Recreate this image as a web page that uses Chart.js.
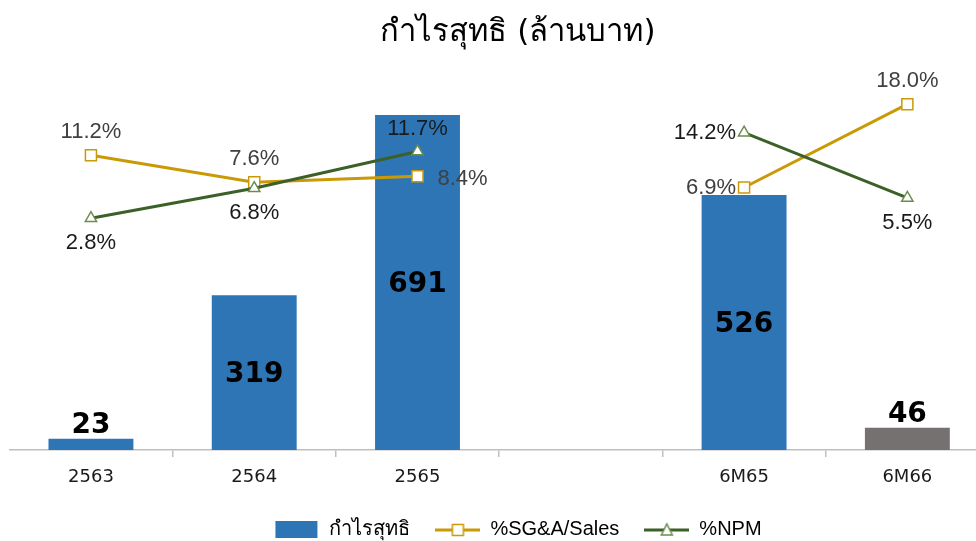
<!DOCTYPE html>
<html>
<head>
<meta charset="utf-8">
<script src="https://cdn.jsdelivr.net/npm/chart.js@4/dist/chart.umd.min.js"></script>
<style>
  html, body { margin: 0; padding: 0; background: #fff; overflow: hidden; }
  #wrap { width: 976px; height: 541px; overflow: hidden; }
  canvas { display: block; }
</style>
</head>
<body>
<div id="wrap"><canvas id="chart" width="1036" height="541"></canvas></div>
<script>
// data
const periods = ['2563', '2564', '2565', '', '6M65', '6M66'];
const netProfit = [23, 319, 691, null, 526, 46];
const sgaPct = [11.2, 7.6, 8.4, null, 6.9, 18.0];
const npmPct = [2.8, 6.8, 11.7, null, 14.2, 5.5];
const seriesNames = ['กำไรสุทธิ', '%SG&A/Sales', '%NPM'];
const chartTitle = 'กำไรสุทธิ (ล้านบาท)';

const BLUE = '#2e75b6';
const GREY = '#767171';
const GOLD = '#c99a06';
const GREEN = '#3c6128';
const GREEN_MARK = '#6b8c4e';

// little canvases used as legend markers
function makeMarker(kind) {
  const c = document.createElement('canvas');
  c.width = 45; c.height = 17;
  const g = c.getContext('2d');
  if (kind === 'bar') {
    g.fillStyle = BLUE;
    g.fillRect(1, 0, 42, 17);
    return c;
  }
  g.strokeStyle = kind === 'sga' ? GOLD : GREEN;
  g.lineWidth = 3;
  g.beginPath(); g.moveTo(0, 9); g.lineTo(45, 9); g.stroke();
  g.fillStyle = '#fff';
  g.lineWidth = 1.5;
  if (kind === 'sga') {
    g.strokeStyle = GOLD;
    g.fillRect(17, 3.5, 11, 11);
    g.strokeRect(17, 3.5, 11, 11);
  } else {
    g.strokeStyle = GREEN_MARK;
    g.beginPath(); g.moveTo(22.5, 3); g.lineTo(28, 14); g.lineTo(17, 14); g.closePath();
    g.fill(); g.stroke();
  }
  return c;
}

const valueLabels = {
  id: 'valueLabels',
  afterDatasetsDraw(chart) {
    const ctx = chart.ctx;
    chart.data.datasets.forEach((ds, di) => {
      const cfg = ds.valueLabel;
      if (!cfg) return;
      const meta = chart.getDatasetMeta(di);
      meta.data.forEach((el, i) => {
        const v = ds.data[i];
        if (v == null) return;
        const pos = cfg.pos[i];
        const text = cfg.fmt(v);
        let x = el.x, y = el.y;
        ctx.save();
        ctx.font = cfg.font;
        ctx.fillStyle = cfg.color;
        ctx.textAlign = 'center';
        ctx.textBaseline = 'middle';
        if (pos === 'barTop') {
          ctx.textBaseline = 'alphabetic';
          y = el.y - 6;
        } else if (pos === 'barMid') {
          y = (el.y + el.base) / 2 + 2;
        } else if (pos === 'top') {
          y = el.y - 23;
        } else if (pos === 'bottom') {
          y = el.y + 25;
        } else if (pos === 'left') {
          ctx.textAlign = 'right';
          x = el.x - 8;
        } else if (pos === 'right') {
          ctx.textAlign = 'left';
          x = el.x + 20;
          y = el.y + 3;
        }
        ctx.fillText(text, x, y);
        ctx.restore();
      });
    });
  }
};

const pctFmt = v => v.toFixed(1) + '%';

new Chart(document.getElementById('chart'), {
  type: 'bar',
  data: {
    labels: periods,
    datasets: [
      {
        label: seriesNames[0],
        data: netProfit,
        backgroundColor: [BLUE, BLUE, BLUE, BLUE, BLUE, GREY],
        yAxisID: 'y',
        order: 2,
        categoryPercentage: 1,
        barPercentage: 0.52,
        valueLabel: {
          pos: ['barTop', 'barMid', 'barMid', null, 'barMid', 'barTop'],
          font: 'bold 28px "DejaVu Sans", sans-serif',
          color: '#000',
          fmt: v => String(v)
        }
      },
      {
        type: 'line',
        label: seriesNames[1],
        data: sgaPct,
        yAxisID: 'y1',
        order: 1,
        borderColor: GOLD,
        borderWidth: 3,
        pointStyle: 'rect',
        pointRadius: 7.8,
        pointBorderWidth: 1.5,
        pointBackgroundColor: '#fff',
        pointBorderColor: GOLD,
        spanGaps: false,
        tension: 0,
        valueLabel: {
          pos: ['top', 'top', 'right', null, 'left', 'top'],
          font: '22px "Liberation Sans", Arial, sans-serif',
          color: '#404040',
          fmt: pctFmt
        }
      },
      {
        type: 'line',
        label: seriesNames[2],
        data: npmPct,
        yAxisID: 'y1',
        order: 0,
        borderColor: GREEN,
        borderWidth: 3,
        pointStyle: 'triangle',
        pointRadius: 6.5,
        pointBorderWidth: 1.5,
        pointBackgroundColor: '#fff',
        pointBorderColor: GREEN_MARK,
        spanGaps: false,
        tension: 0,
        valueLabel: {
          pos: ['bottom', 'bottom', 'top', null, 'left', 'bottom'],
          font: '22px "Liberation Sans", Arial, sans-serif',
          color: '#1a1a1a',
          fmt: pctFmt
        }
      }
    ]
  },
  options: {
    responsive: false,
    animation: false,
    layout: { padding: 0 },
    scales: {
      x: {
        afterFit: s => { s.height = 44.5; },
        grid: {
          drawOnChartArea: false,
          tickLength: 7,
          color: c => (c.index === 0 ? 'rgba(0,0,0,0)' : '#bfbfbf'),
          lineWidth: 1.5
        },
        border: { display: true, color: '#bfbfbf', width: 1.5 },
        ticks: {
          padding: 10,
          color: '#1a1a1a',
          font: { family: '"DejaVu Sans", sans-serif', size: 18 }
        }
      },
      y: {
        position: 'left',
        min: 0,
        max: 800,
        afterFit: s => { s.width = 8; },
        grid: { display: false },
        border: { display: false },
        ticks: { display: false }
      },
      y1: {
        position: 'right',
        min: -28.1,
        max: 23.6,
        afterFit: s => { s.width = 47; },
        grid: { display: false },
        border: { display: false },
        ticks: { display: false }
      }
    },
    plugins: {
      tooltip: { enabled: false },
      title: {
        display: true,
        text: chartTitle,
        color: '#000',
        font: { family: '"DejaVu Sans", sans-serif', size: 31, weight: 'normal', lineHeight: 1.2 },
        padding: { top: 14, bottom: 11 }
      },
      legend: {
        position: 'bottom',
        maxHeight: 46.5,
        labels: {
          usePointStyle: true,
          pointStyleWidth: 45,
          padding: 25,
          color: '#111',
          font: { family: '"Liberation Sans", Arial, sans-serif', size: 20 },
          generateLabels: chart => {
            const kinds = ['bar', 'sga', 'npm'];
            return chart.data.datasets.map((ds, i) => ({
              text: ds.label,
              pointStyle: makeMarker(kinds[i]),
              fillStyle: 'rgba(0,0,0,0)',
              strokeStyle: 'rgba(0,0,0,0)',
              lineWidth: 0,
              hidden: false,
              datasetIndex: i
            }));
          }
        }
      }
    }
  },
  plugins: [valueLabels]
});
</script>
</body>
</html>
